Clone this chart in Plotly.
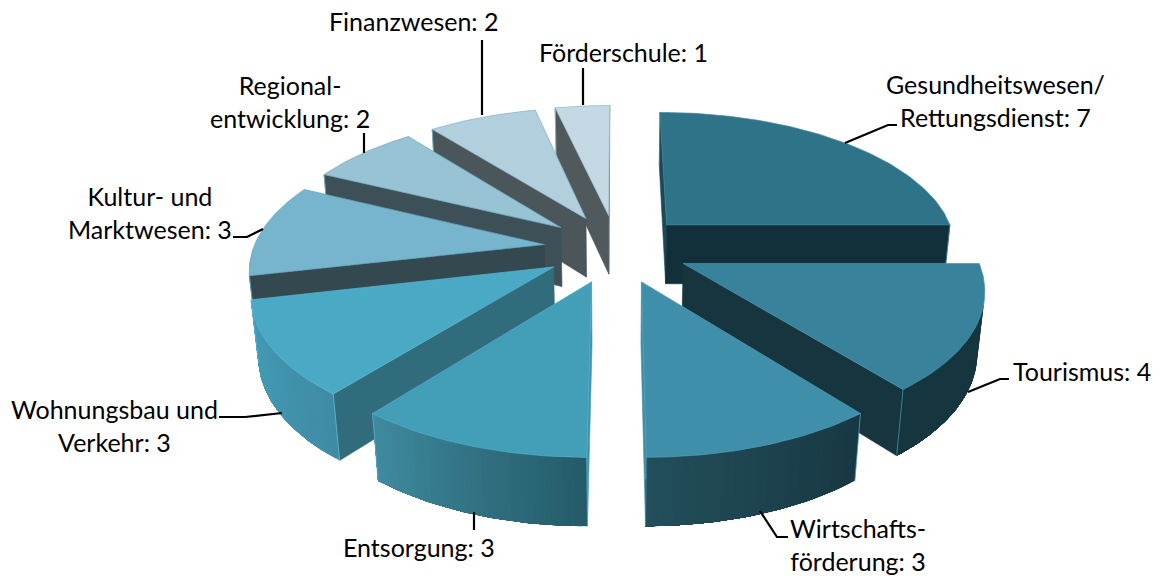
import math
import plotly.graph_objects as go

categories = ["Gesundheitswesen/<br>Rettungsdienst: 7", "Tourismus: 4", "Wirtschafts-<br>förderung: 3",
              "Entsorgung: 3", "Wohnungsbau und<br>Verkehr: 3", "Kultur- und<br>Marktwesen: 3",
              "Regional-<br>entwicklung: 2", "Finanzwesen: 2", "Förderschule: 1"]
values = [7, 4, 3, 3, 3, 3, 2, 2, 1]
top_colors = ["#2F7388", "#38829B", "#3F8FAA", "#439EB8", "#4AA9C5", "#76B5CD", "#98C3D5", "#B1CFDC", "#C4D9E3"]
edge_colors = ["#3F8499", "#4993AC", "#50A0BA", "#54AEC8", "#5AB8D2", "#5E9FB8", "#6FA8BE", "#7FB0C3", "#8FBACB"]
wall_start = ["#1A4A58", "#16363F", "#173842", "#255A68", "#3F8BA5", "#44A0BC", "#5A9AB2", "#6AA0B4", "#7AAABB"]
wall_end = ["#12303A", "#16363F", "#234E5C", "#3F8BA0", "#459EB9", "#44A0BC", "#5A9AB2", "#6AA0B4", "#7AAABB"]
side_start = ["#1A4A58", "#16363F", "#173842", "#3F93AD", "#316C7D", "#33494F", "#3E5057", "#4A5659", "#50595C"]
side_end = ["#12303A", "#16353F", "#3F8BA5", "#3F93AD", "#316C7D", "#33494F", "#3E5057", "#4A5659", "#50595C"]
paint_order = [8, 7, 6, 5, 0, 4, 1, 3, 2]
label_pos = [(995, 100), (1082, 371), (858, 544), (419, 547), (114, 425), (150, 212), (290, 101), (414, 21), (623, 52)]
leaders = [[(845, 143), (888, 125), (897, 125)], [(968, 392), (1000, 379), (1009, 379)],
           [(760, 511), (777, 537), (788, 537)], [(474, 512), (474, 530)],
           [(219, 417), (245, 417), (282, 413)], [(233, 237), (247, 237), (263, 229)],
           [(364, 133), (364, 153)], [(482, 40), (482, 115)], [(583, 68), (583, 105)]]

CX, CY = 616.5, 248.4
F, D = 1659.0, 5.7
ELEV = math.radians(28)
EXPLODE, HEIGHT = 0.25, 0.238


def project(x, y, z):
    depth = D - y * math.cos(ELEV) - z * math.sin(ELEV)
    return CX + F * x / depth, CY + F * (y * math.sin(ELEV) - z * math.cos(ELEV)) / depth


def mix(c1, c2, t):
    a = [int(c1[i:i + 2], 16) for i in (1, 3, 5)]
    b = [int(c2[i:i + 2], 16) for i in (1, 3, 5)]
    return "#%02X%02X%02X" % tuple(round(p + (q - p) * t) for p, q in zip(a, b))


def poly(fig, pts, fill, line=None, width=0.0):
    xs = [p[0] for p in pts] + [pts[0][0]]
    ys = [p[1] for p in pts] + [pts[0][1]]
    fig.add_trace(go.Scatter(x=xs, y=ys, mode="lines", fill="toself", fillcolor=fill,
                             line=dict(color=line or fill, width=width), hoverinfo="skip", showlegend=False))


def facing(a, b):
    q = [project(*a, 0), project(*b, 0), project(*b, -HEIGHT), project(*a, -HEIGHT)]
    area = sum(q[i][0] * q[(i + 1) % 4][1] - q[(i + 1) % 4][0] * q[i][1] for i in range(4))
    return area < 0


def side_wall(fig, a, b, fill):
    if facing(a, b):
        q = [project(*a, 0), project(*b, 0), project(*b, -HEIGHT), project(*a, -HEIGHT)]
        poly(fig, q, fill, fill, 0.6)


def outer_wall(fig, arc, c0, c1):
    n = len(arc) - 1
    shown = [k for k in range(n) if facing(arc[k], arc[k + 1])]
    if not shown:
        return
    last = shown[-1] + 1
    for k in shown:
        run = arc[k:last + 1]
        pts = [project(*p, 0) for p in run] + [project(*p, -HEIGHT) for p in reversed(run)]
        poly(fig, pts, mix(c0, c1, (k + 0.5) / n))


def corner(fig, p, color):
    a, b = project(*p, 0), project(*p, -HEIGHT)
    fig.add_trace(go.Scatter(x=[a[0], b[0]], y=[a[1], b[1]], mode="lines",
                             line=dict(color=color, width=0.8), hoverinfo="skip", showlegend=False))


fig = go.Figure()
total = sum(values)
starts = [sum(values[:i]) / total * 2 * math.pi for i in range(len(values))]

for i in paint_order:
    a0 = starts[i]
    a1 = a0 + values[i] / total * 2 * math.pi
    mid = (a0 + a1) / 2
    ox, oy = EXPLODE * math.sin(mid), -EXPLODE * math.cos(mid)
    n = max(12, int((a1 - a0) * 60))
    arc = [(ox + math.sin(a0 + (a1 - a0) * k / n), oy - math.cos(a0 + (a1 - a0) * k / n)) for k in range(n + 1)]
    apex = (ox, oy)
    side_wall(fig, apex, arc[0], side_start[i])
    side_wall(fig, arc[-1], apex, side_end[i])
    outer_wall(fig, arc, wall_start[i], wall_end[i])
    corner(fig, arc[0], edge_colors[i])
    corner(fig, arc[-1], edge_colors[i])
    poly(fig, [project(*apex, 0)] + [project(*p, 0) for p in arc], top_colors[i], edge_colors[i], 0.7)

for path in leaders:
    fig.add_trace(go.Scatter(x=[p[0] for p in path], y=[p[1] for p in path], mode="lines",
                             line=dict(color="#000000", width=2.2), hoverinfo="skip", showlegend=False))

for text, (x, y) in zip(categories, label_pos):
    fig.add_annotation(x=x, y=y, text=text, showarrow=False, xanchor="center", yanchor="middle",
                       font=dict(family="Lato", size=25, color="#000000"), align="center")

fig.update_layout(width=1161, height=576, margin=dict(l=0, r=0, t=0, b=0),
                  paper_bgcolor="#FFFFFF", plot_bgcolor="#FFFFFF",
                  xaxis=dict(range=[0, 1161], visible=False, fixedrange=True),
                  yaxis=dict(range=[576, 0], visible=False, fixedrange=True))
fig.write_html("out.html", config=dict(displayModeBar=False),
               post_script="document.body.style.margin='0';document.body.style.overflow='hidden';")
